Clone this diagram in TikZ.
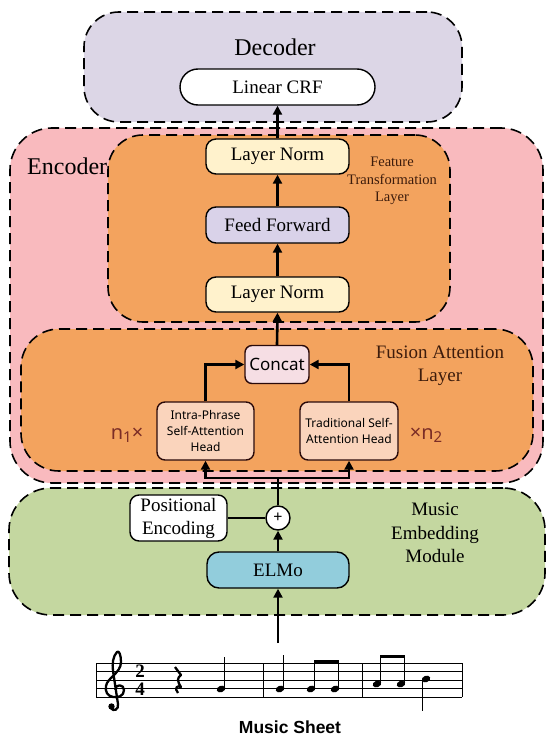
\documentclass[tikz,border=0pt]{standalone}
\usepackage{fontspec}
\setmainfont{Liberation Serif}
\newfontfamily\nsans{Noto Sans}
\newfontfamily\lsans{Liberation Sans}
\usetikzlibrary{arrows.meta}
\definecolor{decfill}{HTML}{DCD6E6}
\definecolor{encfill}{HTML}{F9BABE}
\definecolor{orfill}{HTML}{F3A35E}
\definecolor{lnfill}{HTML}{FFF2CC}
\definecolor{fffill}{HTML}{D9D2E9}
\definecolor{catfill}{HTML}{F6DEE4}
\definecolor{headfill}{HTML}{FAD4BC}
\definecolor{embfill}{HTML}{C4D7A0}
\definecolor{elmofill}{HTML}{92CDDC}
\definecolor{browntext}{HTML}{3D1C0C}
\definecolor{ntext}{HTML}{7B2D26}
\definecolor{inkline}{HTML}{2A0A0A}
\newcommand\fsz[2]{\fontsize{#1}{#2}\selectfont}
\newcommand\nhead[2]{\fill[rotate around={22:(#1,#2)}] (#1,#2) ellipse (4.4 and 3.2);}
\tikzset{
  grp/.style={draw=black, line width=1.6pt, dash pattern=on 11pt off 6pt, rounded corners=#1, inner sep=0pt},
  blk/.style={draw=black, line width=1.4pt, rounded corners=#1, inner sep=0pt, align=center},
  arr/.style={line width=2.6pt, -{Triangle[length=9pt,width=9pt]}},
  plain/.style={line width=2.6pt},
  lbl/.style={align=center, inner sep=0pt},
}
\begin{document}
\begin{tikzpicture}[x=1pt,y=-1pt]
\useasboundingbox (0,0) rectangle (550,741);
\fill[white] (0,0) rectangle (550,741);

% ---- group boxes
\node[grp=35pt, fill=decfill, minimum width=378pt, minimum height=110pt] (dec) at (273,67) {};
\node[lbl, font=\fsz{24}{28}] (declbl) at (275,47) {Decoder};

\node[grp=42pt, fill=encfill, minimum width=533pt, minimum height=355pt] (enc) at (276.5,305.5) {};
\node[lbl, font=\fsz{24}{28}, anchor=west] (enclbl) at (27,166) {Encoder};

\node[grp=35pt, fill=orfill, minimum width=342pt, minimum height=187pt] (feat) at (279,228.5) {};
\node[lbl, font=\fsz{14.5}{17.5}, text=browntext] (featlbl) at (392,181) {Feature\\Transformation\\Layer};

\node[grp=38pt, fill=orfill, minimum width=512pt, minimum height=142pt] (fus) at (277,400) {};
\node[lbl, font=\fsz{19}{23}, text=browntext] (fuslbl) at (440,365.5) {Fusion Attention\\Layer};

\node[grp=42pt, fill=embfill, minimum width=536pt, minimum height=127pt] (emb) at (277,551.5) {};
\node[lbl, font=\fsz{19}{23.5}] (emblbl) at (435,533) {Music\\Embedding\\Module};

% ---- blocks
\node[blk=18pt, fill=white, minimum width=195pt, minimum height=36pt, font=\fsz{19}{22}] (crf) at (277.5,87) {Linear CRF};
\node[blk=10pt, fill=lnfill, minimum width=143pt, minimum height=35pt, font=\fsz{19}{22}] (ln2) at (277.5,156.5) {Layer Norm};
\node[blk=10pt, fill=fffill, minimum width=143pt, minimum height=36pt, font=\fsz{19}{22}] (ff) at (277.5,225) {Feed Forward};
\node[blk=10pt, fill=lnfill, minimum width=143pt, minimum height=35pt, font=\fsz{19}{22}] (ln1) at (277.5,294.5) {Layer Norm};

\node[blk=7pt, draw=inkline, fill=catfill, minimum width=64pt, minimum height=38pt, font=\nsans\fsz{17}{20}] (cat) at (277,364.5) {Concat};
\node[blk=8pt, draw=inkline, fill=headfill, minimum width=97pt, minimum height=58pt, font=\nsans\fsz{12}{16}] (intra) at (205.5,431) {Intra-Phrase\\Self-Attention\\Head};
\node[blk=8pt, draw=inkline, fill=headfill, minimum width=98pt, minimum height=58pt, font=\nsans\fsz{12}{16}] (trad) at (349,431) {Traditional Self-\\Attention Head};
\node[lbl, text=ntext, font=\nsans\fsz{20}{22}] (n1) at (127,435) {n\raisebox{-3pt}{\fsz{15}{15}1}×};
\node[lbl, text=ntext, font=\nsans\fsz{20}{22}] (n2) at (426,435) {×n\raisebox{-3pt}{\fsz{15}{15}2}};

\node[blk=9pt, fill=white, minimum width=97pt, minimum height=46pt, font=\fsz{19}{23}] (pe) at (178.5,518) {Positional\\Encoding};
\node[circle, draw=black, line width=1.4pt, fill=white, minimum size=24pt, inner sep=0pt, font=\nsans\fsz{16}{16}] (plus) at (278,518) {+};
\node[blk=12pt, fill=elmofill, minimum width=142pt, minimum height=36pt, font=\fsz{19}{22}] (elmo) at (278,570) {ELMo};

% ---- connectors
\draw[arr] (ln2.north) -- (crf.south);
\draw[arr] (ff.north) -- (ln2.south);
\draw[arr] (ln1.north) -- (ff.south);
\draw[arr] (cat.north) -- (ln1.south);
\draw[arr] (intra.north) |- (cat.west);
\draw[arr] (trad.north) |- (cat.east);
\coordinate (split) at (278,478);
\draw[plain] (plus.north) -- (split);
\draw[arr] (split) -| (intra.south);
\draw[arr] (split) -| (trad.south);
\draw[plain] (pe.east) -- (plus.west);
\draw[arr] (elmo.north) -- (plus.south);
\coordinate (sheettop) at (278,643);
\draw[arr] (sheettop) -- (elmo.south);

% ---- music sheet
\foreach \yy in {663,671.5,680,688.5,697} \draw[line width=0.9pt] (96,\yy) -- (462,\yy);
\foreach \xx in {96,263,362,462} \draw[line width=0.9pt] (\xx,663) -- (\xx,697);
% treble clef
\draw[line width=2.3pt, line cap=round, line join=round]
 (115,689) .. controls (116,684) and (124,684) .. (124,690)
 .. controls (124,696) and (118,698) .. (113,697)
 .. controls (107,696) and (105,691) .. (106,686)
 .. controls (107,678) and (121,673) .. (121,662)
 .. controls (121,655) and (119,650) .. (117,652)
 .. controls (113,656) and (112,664) .. (113,671)
 -- (118,704)
 .. controls (119,710) and (113,712) .. (111,708);
\fill (111.5,706.5) circle (3.2);
% time signature
\node[lbl, font=\fsz{19}{19}\bfseries] (ts2) at (140,671) {2};
\node[lbl, font=\fsz{19}{19}\bfseries] (ts4) at (140,689.5) {4};
% rest
\draw[line width=2.3pt, line join=round]
 (175,667) -- (181,675) .. controls (177,678) and (177,681) .. (181,687)
 .. controls (177,685) and (174,688) .. (178,693);
% notes
\nhead{221}{689} \draw[line width=0.9pt] (224.9,688) -- (224.9,657);
\nhead{280}{689} \draw[line width=0.9pt] (283.9,688) -- (283.9,655);
\nhead{311}{689} \draw[line width=0.9pt] (314.9,688) -- (314.9,661);
\nhead{335}{689} \draw[line width=0.9pt] (338.9,688) -- (338.9,661);
\fill (314.4,659.5) rectangle (339.3,662.8);
\nhead{377}{684} \draw[line width=0.9pt] (380.9,683) -- (380.9,656);
\nhead{401}{684} \draw[line width=0.9pt] (404.9,683) -- (404.9,656);
\fill (380.4,654.5) rectangle (405.3,657.8);
\nhead{426}{679} \draw[line width=0.9pt] (422.2,680) -- (422.2,711);

\node[lbl, font=\lsans\bfseries\fsz{17.5}{20}] (sheetlbl) at (290,727) {Music Sheet};
\end{tikzpicture}
\end{document}
